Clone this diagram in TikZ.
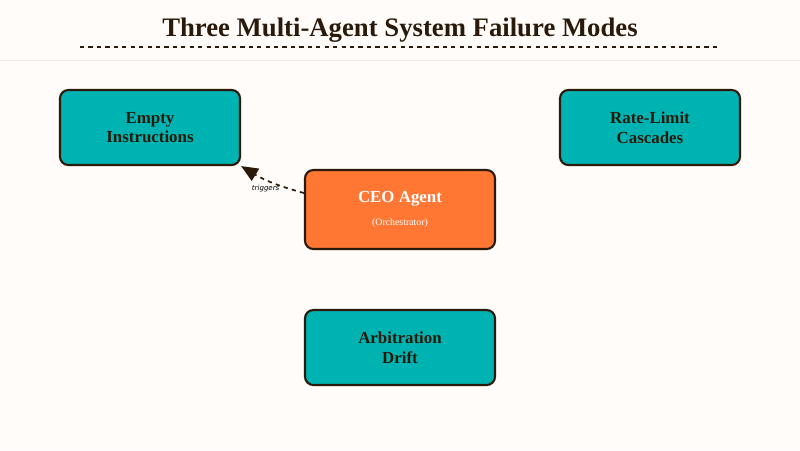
\documentclass[tikz,border=0pt]{standalone}
\usepackage{fontspec}
\setmainfont{Liberation Serif}
\setsansfont{DejaVu Sans}
\usetikzlibrary{positioning,arrows.meta}
\definecolor{PaperBg}{HTML}{FFFCF9}
\definecolor{ModeTeal}{HTML}{00B3B3}
\definecolor{CeoOrange}{HTML}{FF7733}
\definecolor{InkBrown}{HTML}{2B1A0A}
\tikzset{
  failbox/.style={draw=InkBrown, line width=1.5pt, rounded corners=6pt, fill=ModeTeal,
    minimum width=4.5cm, minimum height=1.875cm, align=center, text=InkBrown,
    font=\bfseries\large},
  ceobox/.style={failbox, fill=CeoOrange, minimum width=4.75cm, minimum height=1.975cm, text=white},
  widebox/.style={failbox, minimum width=4.75cm}
}
\begin{document}
\begin{tikzpicture}[x=0.025cm, y=-0.025cm]
  \fill[PaperBg] (0,0) rectangle (800,450);
  \useasboundingbox (0,0) rectangle (800,450);
  \node[font=\bfseries\fontsize{19}{23}\selectfont, text=InkBrown] (title) at (400,30) {Three Multi-Agent System Failure Modes};
  \draw[InkBrown, dashed, line width=0.8pt] (80,47) -- (720,47);
  \draw[InkBrown!10, line width=0.5pt] (0,60) -- (800,60);

  \node[failbox] (empty) at (150,127.5) {Empty\\Instructions};
  \node[failbox] (rate) at (650,127.5) {Rate-Limit\\Cascades};
  \node[ceobox] (ceo) at (400,209.5) {CEO Agent\\[2pt]{\normalfont\scriptsize (Orchestrator)}};
  \node[widebox] (arb) at (400,347.5) {Arbitration\\Drift};

  \draw[-{Triangle[length=12pt,width=10pt]}, dashed, InkBrown, line width=1.2pt]
    (ceo.west |- 0,193) to[bend left=8] node[pos=0.6, below, font=\sffamily\itshape\tiny, text=black] {triggers} (empty.south east);
\end{tikzpicture}
\end{document}
